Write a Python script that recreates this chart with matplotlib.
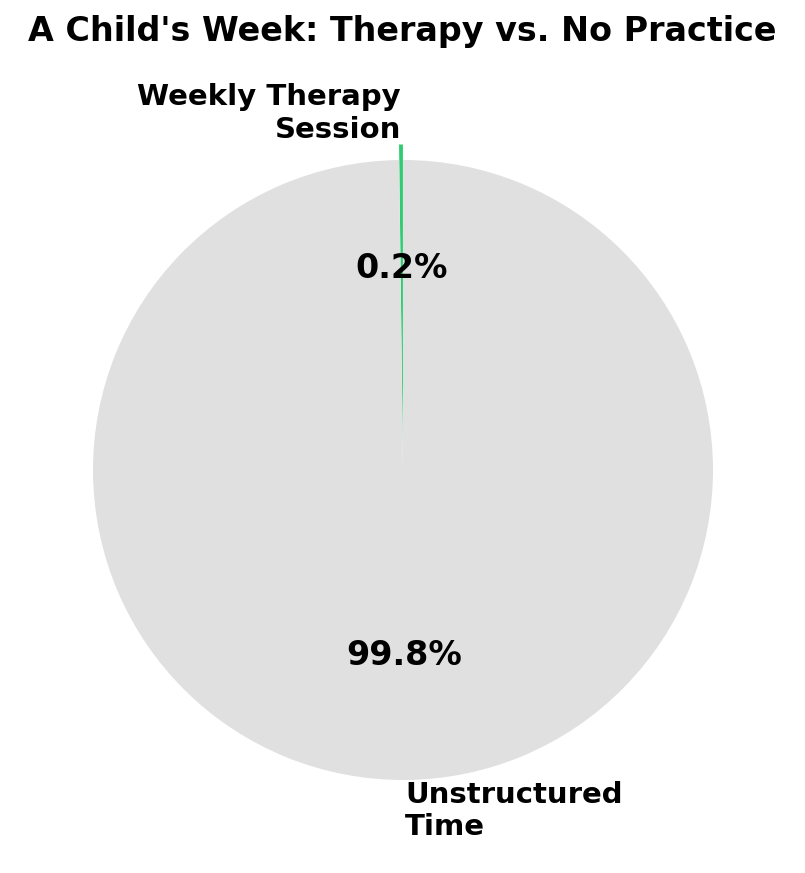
import matplotlib.pyplot as plt

# Minutes in a week
labels = ['Weekly Therapy\nSession', 'Unstructured\nTime']
minutes = [20, 10060]
colors = ['#2ecc71', '#e0e0e0']
explode = [0.05, 0]

W, H = 805, 873
cx, cy, r = 403, 470, 310  # pie centre and radius in pixels

fig = plt.figure(figsize=(W / 100, H / 100), dpi=100)
ax = fig.add_axes([0, 0, 1, 1])

wedges, texts, autotexts = ax.pie(
    minutes, labels=labels, colors=colors, explode=explode,
    autopct='%1.1f%%', startangle=90,
    textprops={'fontsize': 21, 'fontweight': 'bold'})

for t in autotexts:
    t.set_fontsize(24)

ax.set_aspect('equal')
ax.set_xlim(-cx / r, (W - cx) / r)
ax.set_ylim(-(H - cy) / r, cy / r)
ax.axis('off')

fig.suptitle("A Child's Week: Therapy vs. No Practice",
             fontsize=24, fontweight='bold', y=1 - 31 / H, va='center')

plt.savefig('out.png')
